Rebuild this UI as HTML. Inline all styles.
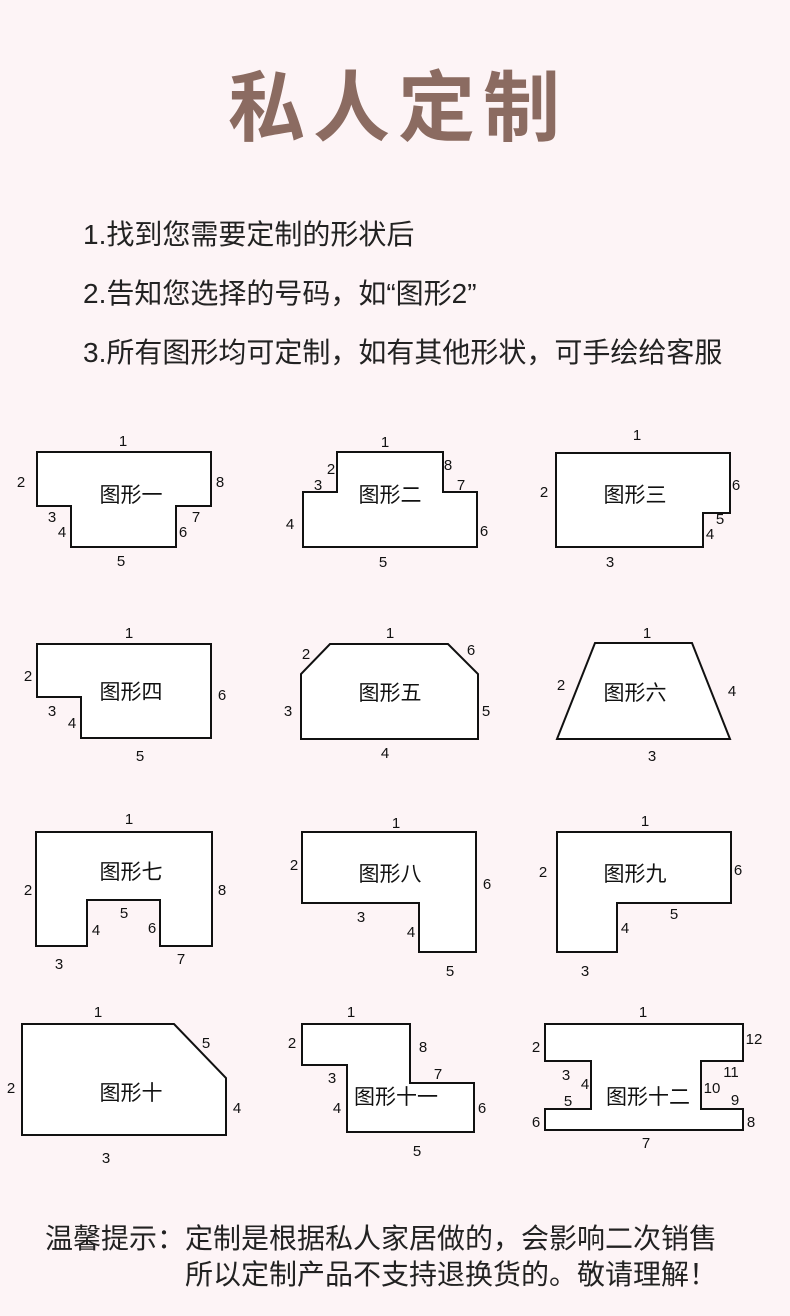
<!DOCTYPE html>
<html><head><meta charset="utf-8"><style>
html,body{margin:0;padding:0;background:#fdf4f6;}
svg{display:block}
.t{font-family:"Liberation Sans","Noto Sans CJK SC",sans-serif;}
.n{font-family:"Liberation Sans","Noto Sans CJK SC",sans-serif;font-size:15px;fill:#111;text-anchor:middle;}
.c{font-family:"Liberation Sans","Noto Sans CJK SC",sans-serif;font-size:21px;fill:#111;text-anchor:middle;}
polygon{fill:#fff;stroke:#111;stroke-width:2;}
</style></head><body>
<svg width="790" height="1316" viewBox="0 0 790 1316" xmlns="http://www.w3.org/2000/svg">
<rect width="790" height="1316" fill="#fdf4f6"/>
<text class="t" x="398" y="135" text-anchor="middle" font-size="77" font-weight="bold" fill="#8b6b61" letter-spacing="8">私人定制</text>
<g class="t" font-size="28" fill="#222">
<text x="83" y="244">1.找到您需要定制的形状后</text>
<text x="83" y="303">2.告知您选择的号码，如“图形2”</text>
<text x="83" y="362">3.所有图形均可定制，如有其他形状，可手绘给客服</text>
<text x="45" y="1248">温馨提示：定制是根据私人家居做的，会影响二次销售</text>
<text x="185" y="1284">所以定制产品不支持退换货的。敬请理解！</text>
</g>
<polygon points="37,452 211,452 211,506 176,506 176,547 71,547 71,506 37,506"/>
<polygon points="337,452 443,452 443,492 477,492 477,547 303,547 303,492 337,492"/>
<polygon points="556,453 730,453 730,513 703,513 703,547 556,547"/>
<polygon points="37,644 211,644 211,738 81,738 81,697 37,697"/>
<polygon points="330,644 448,644 478,674 478,739 301,739 301,674"/>
<polygon points="595,643 692,643 730,739 557,739"/>
<polygon points="36,832 212,832 212,946 160,946 160,900 87,900 87,946 36,946"/>
<polygon points="302,832 476,832 476,952 419,952 419,903 302,903"/>
<polygon points="557,832 731,832 731,903 617,903 617,952 557,952"/>
<polygon points="22,1024 174,1024 226,1078 226,1135 22,1135"/>
<polygon points="302,1024 410,1024 410,1083 474,1083 474,1132 347,1132 347,1065 302,1065"/>
<polygon points="545,1024 743,1024 743,1061 701,1061 701,1109 743,1109 743,1130 545,1130 545,1109 591,1109 591,1061 545,1061"/>
<text class="c" x="131" y="502">图形一</text>
<text class="c" x="390" y="502">图形二</text>
<text class="c" x="635" y="502">图形三</text>
<text class="c" x="131" y="699">图形四</text>
<text class="c" x="390" y="700">图形五</text>
<text class="c" x="635" y="700">图形六</text>
<text class="c" x="131" y="879">图形七</text>
<text class="c" x="390" y="881">图形八</text>
<text class="c" x="635" y="881">图形九</text>
<text class="c" x="131" y="1100">图形十</text>
<text class="c" x="396" y="1104">图形十一</text>
<text class="c" x="648" y="1104">图形十二</text>
<g class="n">
<text x="123" y="446">1</text><text x="21" y="487">2</text><text x="220" y="487">8</text><text x="52" y="522">3</text><text x="62" y="537">4</text><text x="196" y="522">7</text><text x="183" y="537">6</text><text x="121" y="566">5</text>
<text x="385" y="447">1</text><text x="331" y="474">2</text><text x="318" y="490">3</text><text x="448" y="470">8</text><text x="461" y="490">7</text><text x="290" y="529">4</text><text x="484" y="536">6</text><text x="383" y="567">5</text>
<text x="637" y="440">1</text><text x="544" y="497">2</text><text x="736" y="490">6</text><text x="720" y="524">5</text><text x="710" y="539">4</text><text x="610" y="567">3</text>
<text x="129" y="638">1</text><text x="28" y="681">2</text><text x="222" y="700">6</text><text x="52" y="716">3</text><text x="72" y="728">4</text><text x="140" y="761">5</text>
<text x="390" y="638">1</text><text x="306" y="659">2</text><text x="471" y="655">6</text><text x="288" y="716">3</text><text x="486" y="716">5</text><text x="385" y="758">4</text>
<text x="647" y="638">1</text><text x="561" y="690">2</text><text x="732" y="696">4</text><text x="652" y="761">3</text>
<text x="129" y="824">1</text><text x="28" y="895">2</text><text x="222" y="895">8</text><text x="124" y="918">5</text><text x="96" y="935">4</text><text x="152" y="933">6</text><text x="59" y="969">3</text><text x="181" y="964">7</text>
<text x="396" y="828">1</text><text x="294" y="870">2</text><text x="487" y="889">6</text><text x="361" y="922">3</text><text x="411" y="937">4</text><text x="450" y="976">5</text>
<text x="645" y="826">1</text><text x="543" y="877">2</text><text x="738" y="875">6</text><text x="674" y="919">5</text><text x="625" y="933">4</text><text x="585" y="976">3</text>
<text x="98" y="1017">1</text><text x="206" y="1048">5</text><text x="11" y="1093">2</text><text x="237" y="1113">4</text><text x="106" y="1163">3</text>
<text x="351" y="1017">1</text><text x="292" y="1048">2</text><text x="423" y="1052">8</text><text x="438" y="1079">7</text><text x="332" y="1083">3</text><text x="337" y="1113">4</text><text x="482" y="1113">6</text><text x="417" y="1156">5</text>
<text x="643" y="1017">1</text><text x="536" y="1052">2</text><text x="754" y="1044">12</text><text x="566" y="1080">3</text><text x="585" y="1089">4</text><text x="731" y="1077">11</text><text x="712" y="1093">10</text><text x="568" y="1106">5</text><text x="735" y="1105">9</text><text x="536" y="1127">6</text><text x="751" y="1127">8</text><text x="646" y="1148">7</text>
</g>
</svg>
</body></html>
